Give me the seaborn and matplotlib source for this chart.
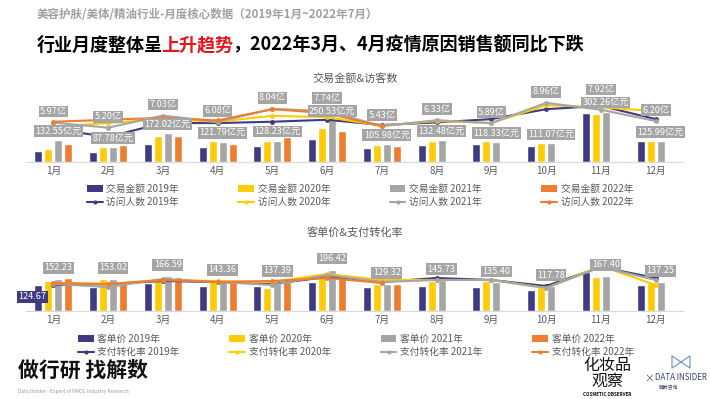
import numpy as np
import pandas as pd
import matplotlib
matplotlib.use("Agg")
import matplotlib.pyplot as plt
import seaborn as sns
from matplotlib.patches import Patch
from matplotlib.lines import Line2D

# ---------------- data ----------------
months = [f"{i}月" for i in range(1, 13)]
years = ["2019年", "2020年", "2021年", "2022年"]

sales_2019 = [66, 60, 108, 90, 96, 138, 84, 102, 108, 96, 294, 126]
sales_2020 = [78, 90, 156, 126, 126, 204, 102, 126, 126, 114, 288, 126]
sales_2021 = [132.55, 87.78, 172.02, 121.79, 128.23, 250.53, 105.98, 132.48, 118.33, 111.07, 302.26, 125.99]
sales_2022 = [108, 102, 158, 108, 150, 186, 96]

visitors_2019 = [5.0, 3.8, 5.9, 5.9, 6.1, 6.4, 5.6, 6.0, 6.5, 8.0, 8.5, 6.5]
visitors_2020 = [5.3, 5.9, 6.5, 6.1, 7.0, 6.8, 5.5, 6.2, 5.9, 8.6, 8.3, 7.7]
visitors_2021 = [5.97, 5.20, 7.03, 6.08, 8.04, 7.74, 5.43, 6.33, 5.89, 8.96, 7.92, 6.20]
visitors_2022 = [6.1, 6.4, 6.7, 6.3, 8.0, 7.4, 5.4]

price_2019 = [124.67, 114, 133, 119, 119, 138, 114, 119, 114, 100, 185, 124]
price_2020 = [143, 152, 157, 147, 109, 176, 128, 143, 143, 114, 162, 133]
price_2021 = [152.23, 153.02, 166.59, 143.36, 137.39, 196.42, 129.32, 145.73, 135.40, 117.78, 167.40, 137.25]
price_2022 = [157, 138, 162, 138, 138, 176, 128]

conv_2019 = [2.6, 2.7, 3.0, 2.9, 2.7, 3.4, 2.9, 3.3, 3.1, 2.5, 4.4, 3.3]
conv_2020 = [2.8, 2.7, 3.1, 3.0, 2.9, 3.7, 3.1, 3.1, 3.1, 2.3, 4.5, 2.6]
conv_2021 = [2.7, 2.4, 3.2, 2.9, 2.6, 3.6, 2.9, 3.1, 3.1, 2.3, 4.4, 3.1]
conv_2022 = [2.8, 2.7, 3.1, 2.9, 3.0, 3.3, 2.8]

# ---------------- style ----------------
sns.set_style("white")
plt.rcParams["font.family"] = ["Noto Sans CJK SC", "DejaVu Sans"]
plt.rcParams["axes.unicode_minus"] = False

NAVY, YELLOW, GRAY, ORANGE = "#3F3B82", "#FFCB05", "#A5A5A5", "#ED7D31"
colors = [NAVY, YELLOW, GRAY, ORANGE]
TXT = "#595959"

W, H = 710, 399
fig = plt.figure(figsize=(W / 100, H / 100), dpi=100)
fig.patch.set_facecolor("white")


def axes_px(x0, y0, x1, y1):
    return fig.add_axes([x0 / W, 1 - y1 / H, (x1 - x0) / W, (y1 - y0) / H])


def long_df(series):
    rows = []
    for yr, vals in zip(years, series):
        for m, v in zip(months, vals):
            rows.append((m, yr, v))
    return pd.DataFrame(rows, columns=["月份", "年份", "值"])


def style_axes(ax, ax2):
    for s in ["top", "left", "right"]:
        ax.spines[s].set_visible(False)
        ax2.spines[s].set_visible(False)
    ax.spines["bottom"].set_color("#D9D9D9")
    ax.spines["bottom"].set_linewidth(0.8)
    ax2.spines["bottom"].set_visible(False)
    ax.set_yticks([])
    ax2.set_yticks([])
    ax.set_xlabel("")
    ax.set_ylabel("")
    ax2.set_ylabel("")
    ax.tick_params(axis="x", length=0, pad=3, labelsize=7, labelcolor=TXT)
    ax.set_xlim(-0.5, 11.5)


LBL_FS = 6.6


def box_label(ax2, text, xy, trans, dy_pt, fc, dx_pt=0, fs=LBL_FS):
    ax2.annotate(text, xy=xy, xycoords=trans, xytext=(dx_pt, dy_pt),
                 textcoords="offset points", ha="center", va="center",
                 fontsize=fs, color="white", zorder=10,
                 bbox=dict(boxstyle="square,pad=0.15", fc=fc, ec="none"),
                 annotation_clip=False)


def draw_panel(y_top, y_base, bar_series, line_series, px_per_bar, px_per_line):
    ax = axes_px(26, y_top, 683, y_base)
    hpx = y_base - y_top
    df = long_df(bar_series)
    sns.barplot(data=df, x="月份", y="值", hue="年份", order=months, hue_order=years,
                palette=colors, width=0.73, gap=0.2, saturation=1, errorbar=None,
                legend=False, ax=ax)
    ax.set_ylim(0, hpx * px_per_bar)
    ax2 = ax.twinx()
    for vals, c in zip(line_series, colors):
        sns.lineplot(x=np.arange(len(vals)), y=vals, ax=ax2, color=c, marker="o",
                     markersize=3.5, markeredgewidth=0, linewidth=1.5, legend=False)
    ax2.set_ylim(0, hpx / px_per_line)
    style_axes(ax, ax2)
    return ax, ax2


# ---------------- top panel ----------------
ax1, ax1b = draw_panel(85, 162, [sales_2019, sales_2020, sales_2021, sales_2022],
                       [visitors_2019, visitors_2020, visitors_2021, visitors_2022], 6.0, 6.6)
fig.canvas.draw()
gray_bars = ax1.containers[2]
bar_label_px = []
for bar, v in zip(gray_bars, sales_2021):
    x = bar.get_x() + bar.get_width() / 2
    box_label(ax1b, f"{v:.2f}亿元", (x, bar.get_height()), ax1.transData, 6.5, GRAY)
    bar_label_px.append(ax1.transData.transform((x, bar.get_height()))[1] + 9)
for i, v in enumerate(visitors_2021):
    px, py = ax1b.transData.transform((i, v))
    ly = max(py + 11, bar_label_px[i] + 13)
    ax1b.annotate(f"{v:.2f}亿", xy=(px, ly), xycoords="figure pixels", ha="center",
                  va="center", fontsize=LBL_FS, color="white", zorder=10,
                  bbox=dict(boxstyle="square,pad=0.15", fc=GRAY, ec="none"),
                  annotation_clip=False)

# ---------------- bottom panel ----------------
ax2, ax2b = draw_panel(245, 311, [price_2019, price_2020, price_2021, price_2022],
                       [conv_2019, conv_2020, conv_2021, conv_2022], 4.75, 10.0)
for bar, v in zip(ax2.containers[2], price_2021):
    x = bar.get_x() + bar.get_width() / 2
    box_label(ax2b, f"{v:.2f}", (x, bar.get_height()), ax2.transData, 8, GRAY)
nb = ax2.containers[0][0]
box_label(ax2b, f"{price_2019[0]:.2f}", (nb.get_x() + nb.get_width() / 2, nb.get_height()),
          ax2.transData, -8.6, NAVY, dx_pt=-4.3)

# ---------------- panel titles ----------------
fig.text(355 / W, 1 - 78 / H, "交易金额&访客数", ha="center", va="center", fontsize=8, color=TXT)
fig.text(355 / W, 1 - 232 / H, "客单价&支付转化率", ha="center", va="center", fontsize=8, color=TXT)


# ---------------- legends ----------------
def make_legend(prefix_bar, prefix_line, x_px, y_px, colspace):
    handles, labels = [], []
    for yr, c in zip(years, colors):
        handles.append(Patch(facecolor=c, edgecolor="none"))
        labels.append(f"{prefix_bar} {yr}")
        handles.append(Line2D([0], [0], color=c, lw=1.5, marker="o", markersize=3,
                              markeredgewidth=0))
        labels.append(f"{prefix_line} {yr}")
    leg = fig.legend(handles, labels, ncol=4, loc="upper left",
                     bbox_to_anchor=(x_px / W, 1 - y_px / H), frameon=False,
                     fontsize=7, handlelength=1.6, handleheight=0.6, handletextpad=0.4,
                     columnspacing=colspace, labelspacing=0.35, borderpad=0, borderaxespad=0)
    for t in leg.get_texts():
        t.set_color(TXT)
    return leg


make_legend("交易金额", "访问人数", 87, 184, 6.1)
make_legend("客单价", "支付转化率", 78, 334, 5.1)

# ---------------- header ----------------
fig.text(37 / W, 1 - 15 / H, "美容护肤/美体/精油行业-月度核心数据（2019年1月~2022年7月）",
         ha="left", va="center", fontsize=8.3, color="#A0A0A0", fontweight="bold")
renderer = fig.canvas.get_renderer()
x = 37
for s, c in [("行业月度整体呈", "black"), ("上升趋势", "#E8141B"),
             ("，2022年3月、4月疫情原因销售额同比下跌", "black")]:
    t = fig.text(x / W, 1 - 45 / H, s, ha="left", va="center", fontsize=13,
                 fontweight="bold", color=c)
    x += t.get_window_extent(renderer).width - 1.5

# ---------------- footer ----------------
fig.text(18 / W, 1 - 370 / H, "做行研 找解数", ha="left", va="center", fontsize=15,
         fontweight="bold", color="#111111")
fig.text(18 / W, 1 - 392 / H, "Data Insider - Expert of FMCG Industry Research",
         ha="left", va="center", fontsize=3.6, color="#9A9A9A")
fig.text(607 / W, 1 - 365 / H, "化妆品", ha="center", va="center", fontsize=11.5, color="#111111")
fig.text(607 / W, 1 - 381 / H, "观察", ha="center", va="center", fontsize=11.5, color="#111111")
fig.text(607 / W, 1 - 394 / H, "COSMETIC OBSERVER", ha="center", va="center", fontsize=3.3,
         fontweight="bold", color="#111111")
fig.text(649 / W, 1 - 379 / H, "×", ha="center", va="center", fontsize=7, color="#555555")
fig.text(681 / W, 1 - 377 / H, "DATA INSIDER", ha="center", va="center", fontsize=5.8,
         color="#3A4668")
fig.text(669 / W, 1 - 388 / H, "解数咨询", ha="center", va="center", fontsize=3.5,
         color="#3A4668")
bx = np.array([672, 690, 690, 672, 672]) / W
by = 1 - np.array([356, 368, 356, 368, 356]) / H
fig.add_artist(Line2D(bx, by, color="#6C8FC7", lw=0.8))

fig.savefig("out.png", dpi=100, facecolor="white")
